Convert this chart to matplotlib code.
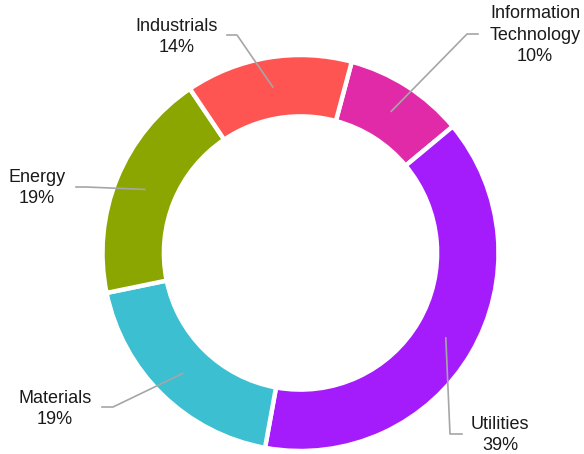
import numpy as np
import matplotlib
matplotlib.use("Agg")
from matplotlib import pyplot as plt

sectors = ["Information\nTechnology", "Utilities", "Materials", "Energy", "Industrials"]
weights = [9.8, 38.9, 18.9, 18.8, 13.6]
colors = ["#E02AA8", "#A51CFC", "#3CBFD0", "#8BA600", "#FF5552"]

# label layout in pixels: (elbow x, elbow y, end x, text x, text y)
label_px = [
    (467, 34, 478, 535, 35),
    (450, 434, 462, 500, 435),
    (113, 407, 102, 55, 409),
    (86, 187, 76, 37, 188),
    (237, 35, 227, 177, 37),
]

W, H = 584, 454
cx, cy, R = 300.5, 253, 198


def px(x, y):
    return (x - cx) / R, (cy - y) / R


plt.rcParams["font.family"] = ["Liberation Sans", "DejaVu Sans"]
fig = plt.figure(figsize=(W / 100, H / 100), dpi=100)
ax = fig.add_axes([0, 0, 1, 1])
wedges, _ = ax.pie(weights, colors=colors, startangle=75, counterclock=False,
                   radius=1, wedgeprops=dict(width=0.31, edgecolor="white", linewidth=3.2))
ax.set_xlim(-cx / R, (W - cx) / R)
ax.set_ylim(-(H - cy) / R, cy / R)
ax.set_aspect("equal")
ax.axis("off")

total = sum(weights)
for w, name, val, (ex, ey, tx, lx, ly) in zip(wedges, sectors, weights, label_px):
    mid = np.deg2rad((w.theta1 + w.theta2) / 2)
    sx, sy = 0.85 * np.cos(mid), 0.85 * np.sin(mid)
    bx, by = px(ex, ey)
    dx, dy = px(tx, ey)
    ax.plot([sx, bx, dx], [sy, by, dy], color="#A6A6A6", lw=1.2, zorder=3)
    tx_, ty_ = px(lx, ly)
    ax.text(tx_, ty_, f"{name}\n{round(val / total * 100)}%", ha="center", va="center",
            fontsize=13, color="#1a1a1a", linespacing=1.33)

fig.savefig("out.png", dpi=100)
